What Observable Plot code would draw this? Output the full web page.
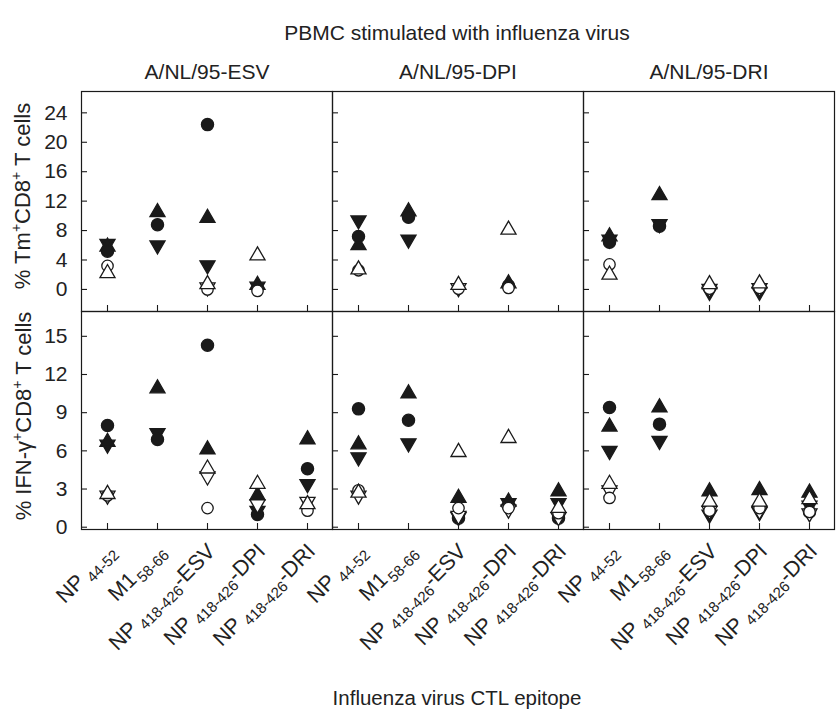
<!DOCTYPE html>
<html><head><meta charset="utf-8">
<script src="https://cdn.jsdelivr.net/npm/d3@7"></script>
<script src="https://cdn.jsdelivr.net/npm/@observablehq/plot@0.6"></script>
<style>
body{margin:0;background:#fff;}
#wrap{position:relative;width:837px;height:709px;font-family:"Liberation Sans",Arial,sans-serif;color:#222;overflow:hidden;}
.t{position:absolute;white-space:nowrap;font-size:20px;transform:translate(-50%,-50%);line-height:1;}
.yl{position:absolute;white-space:nowrap;font-size:22px;transform:translate(-50%,-50%) rotate(-90deg);line-height:1;}
.yl sup{font-size:14px;vertical-align:0;position:relative;top:-9px;}
#p1,#p2{position:absolute;left:0;}
</style></head>
<body><div id="wrap">
<div class="t" style="left:457px;top:32px;font-size:21px">PBMC stimulated with influenza virus</div>
<div class="yl" style="left:23px;top:196px">% Tm<sup>+</sup>CD8<sup>+</sup> T cells</div>
<div class="yl" style="left:24px;top:416px">% IFN-γ<sup>+</sup>CD8<sup>+</sup> T cells</div>
<div class="t" style="left:457px;top:698px;font-size:20.5px">Influenza virus CTL epitope</div>
<div id="p1" style="top:0px"></div>
<div id="p2" style="top:307px"></div>
</div>
<script>
// ---------- data ----------
const viruses = ["A/NL/95-ESV", "A/NL/95-DPI", "A/NL/95-DRI"];
const epitopeMain = ["NP", "M1", "NP", "NP", "NP"];
const epitopeSub = ["44-52", "58-66", "418-426", "418-426", "418-426"];
const epitopeSuffix = ["", "", "-ESV", "-DPI", "-DRI"];
const epitopes = epitopeMain.map((m, i) => m + " " + epitopeSub[i] + epitopeSuffix[i]);

const tmTicks = [0, 4, 8, 12, 16, 20, 24];
const ifnTicks = [0, 3, 6, 9, 12, 15];

// % Tm+ CD8+ T cells  [virus][epitope]
const tmFC = [[5.2, 8.8, 22.4, null, null], [7.2, 9.8, null, 0.5, null], [6.4, 8.6, null, null, null]];
const tmFU = [[5.8, 10.5, 9.7, 0.6, null], [6.0, 10.6, null, 0.8, null], [7.2, 12.8, null, null, null]];
const tmFD = [[6.2, 6.0, 3.3, 0.4, null], [9.4, 6.8, null, null, null], [6.8, 8.9, -0.3, -0.3, null]];
const tmOD = [[null, null, 0.3, null, null], [null, null, 0.2, null, null], [null, null, 0.1, 0.2, null]];
const tmOC = [[3.2, null, 0.0, -0.2, null], [2.6, null, 0.1, 0.2, null], [3.4, null, 0.1, 0.2, null]];
const tmOU = [[2.2, null, 0.7, 4.6, null], [2.7, null, 0.6, 8.1, null], [2.0, null, 0.7, 0.8, null]];

// % IFN-γ+ CD8+ T cells  [virus][epitope]
const ifnFC = [[8.0, 6.9, 14.3, 1.0, 4.6], [9.3, 8.4, 0.7, null, 0.7], [9.4, 8.1, null, null, 1.2]];
const ifnFU = [[6.7, 10.9, 6.1, 2.5, 6.9], [6.5, 10.5, 2.3, 2.0, 2.8], [7.9, 9.4, 2.8, 2.9, 2.7]];
const ifnFD = [[6.5, 7.4, null, 1.3, 3.4], [5.5, 6.6, 0.8, 1.9, 1.9], [6.0, 6.8, 1.0, 1.2, 1.7]];
const ifnOD = [[2.5, null, 4.0, 1.8, 2.0], [2.5, null, 0.9, 1.4, 0.8], [2.9, null, 1.3, 1.3, 1.1]];
const ifnOC = [[2.5, null, 1.5, null, 1.3], [2.9, null, 1.5, 1.5, 1.1], [2.3, null, 1.3, 1.5, 1.2]];
const ifnOU = [[2.6, null, 4.6, 3.4, 1.8], [2.7, null, 5.9, 7.0, 1.5], [3.4, null, 2.0, 2.0, 2.2]];

// ---------- build ----------
const seriesOrder = ["FD", "FU", "FC", "OD", "OC", "OU"];
function longData(map) {
  const out = [];
  for (const s of seriesOrder) {
    map[s].forEach((vals, vi) => vals.forEach((v, ei) => {
      if (v != null) out.push({s, virus: viruses[vi], epitope: epitopes[ei], value: v});
    }));
  }
  return out;
}
const tmData = longData({FC: tmFC, FU: tmFU, FD: tmFD, OD: tmOD, OC: tmOC, OU: tmOU});
const ifnData = longData({FC: ifnFC, FU: ifnFU, FD: ifnFD, OD: ifnOD, OC: ifnOC, OU: ifnOU});

const triangleDown = {
  draw(ctx, size) {
    const y = -Math.sqrt(size / (3 * Math.sqrt(3)));
    ctx.moveTo(0, -y * 2);
    ctx.lineTo(-Math.sqrt(3) * y, y);
    ctx.lineTo(Math.sqrt(3) * y, y);
    ctx.closePath();
  }
};
const ink = "#1a1a1a";
const symStyle = {
  FC: {symbol: "circle", r: 6.1, fill: ink},
  FU: {symbol: "triangle", r: 5.6, fill: ink},
  FD: {symbol: triangleDown, r: 5.6, fill: ink},
  OC: {symbol: "circle", r: 5.7, fill: "white"},
  OU: {symbol: "triangle", r: 5.6, fill: "white"},
  OD: {symbol: triangleDown, r: 5.6, fill: "white"}
};
function dots(data) {
  return seriesOrder.map(k => Plot.dot(data, {
    filter: d => d.s === k, x: "epitope", y: "value",
    ...symStyle[k], stroke: ink, strokeWidth: 1.3
  }));
}
const W = 837, ML = 81, MR = 3;
const facetW = (W - ML - MR) / 3;
const baseStyle = {fontFamily: "Liberation Sans, Arial, sans-serif", fontSize: "21px", color: "#222", background: "transparent", overflow: "visible"};

// top row
const H1 = 220;
const plot1 = Plot.plot({
  width: W, height: 91 + H1 + 4,
  marginLeft: ML, marginRight: MR, marginTop: 91, marginBottom: 4,
  style: baseStyle,
  facet: {data: tmData, x: "virus"},
  fx: {domain: viruses, padding: 0, axis: "top", label: null, tickSize: 0, tickPadding: 13},
  x: {type: "point", domain: epitopes, padding: 0.5, axis: null},
  y: {domain: [-3.0, 26.9], ticks: tmTicks, tickSize: 0, tickPadding: 14, label: null},
  marks: [
    Plot.tickY(tmTicks, {y: d => d, insetRight: facetW - 6, stroke: ink, strokeWidth: 1.1}),
    Plot.tickX(epitopes, {x: d => d, insetTop: H1 - 6, stroke: ink, strokeWidth: 1.1}),
    ...dots(tmData),
    Plot.frame({stroke: ink, strokeWidth: 1.2})
  ]
});
document.getElementById("p1").append(plot1);

// bottom row
const H2 = 218;
const plot2 = Plot.plot({
  width: W, height: 4 + H2 + 130,
  marginLeft: ML, marginRight: MR, marginTop: 4, marginBottom: 130,
  style: baseStyle,
  facet: {data: ifnData, x: "virus"},
  fx: {domain: viruses, padding: 0, axis: null},
  x: {type: "point", domain: epitopes, padding: 0.5, axis: null},
  y: {domain: [-0.18, 16.95], ticks: ifnTicks, tickSize: 0, tickPadding: 14, label: null},
  marks: [
    Plot.tickY(ifnTicks, {y: d => d, insetRight: facetW - 6, stroke: ink, strokeWidth: 1.1}),
    Plot.tickX(epitopes, {x: d => d, insetTop: H2 - 6, stroke: ink, strokeWidth: 1.1}),
    ...dots(ifnData),
    Plot.frame({stroke: ink, strokeWidth: 1.2}),
    Plot.text(epitopes, {x: d => d, text: d => d, frameAnchor: "bottom", rotate: -45, textAnchor: "end", dx: 9, dy: 23, fill: "#222", fontSize: 21.5})
  ]
});
document.getElementById("p2").append(plot2);

// rich tick labels: subscripts
const NS = "http://www.w3.org/2000/svg";
plot2.querySelectorAll("text").forEach(t => {
  const i = epitopes.indexOf(t.textContent);
  if (i < 0) return;
  while (t.firstChild) t.removeChild(t.firstChild);
  const a = document.createElementNS(NS, "tspan");
  a.textContent = epitopeMain[i];
  const b = document.createElementNS(NS, "tspan");
  b.textContent = epitopeSub[i];
  b.setAttribute("font-size", "15");
  b.setAttribute("dy", "5");
  b.setAttribute("dx", epitopeMain[i] === "NP" ? "5" : "2");
  t.append(a, b);
  if (epitopeSuffix[i]) {
    const c = document.createElementNS(NS, "tspan");
    c.textContent = epitopeSuffix[i];
    c.setAttribute("font-size", "21.5");
    c.setAttribute("dy", "-5");
    t.append(c);
  }
});
</script>
</body></html>
